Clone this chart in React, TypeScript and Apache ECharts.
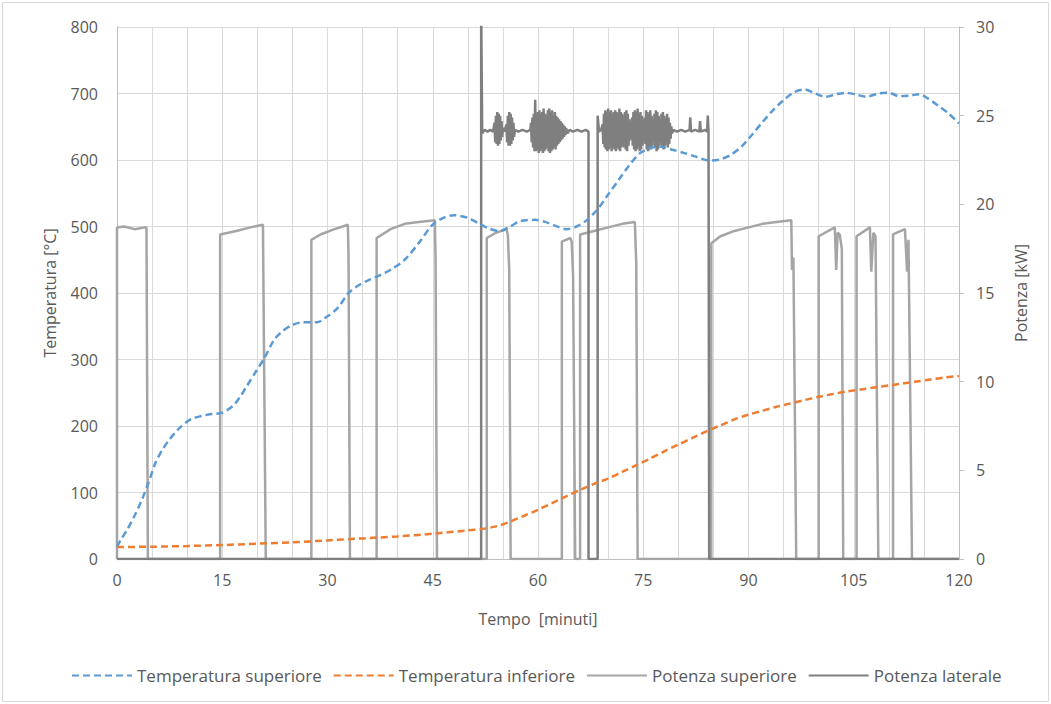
import React, { useEffect, useRef } from "react";
import * as echarts from "echarts";

const xTicks = [0, 15, 30, 45, 60, 75, 90, 105, 120];

const tempSuperiore: [number, number][] = [
  [0, 18], [0.5, 28], [1.5, 45], [2.5, 65], [3.5, 88], [4.5, 115], [5.5, 145], [6.5, 165], [7.5, 180],
  [9, 198], [10.5, 210], [12, 215], [13.5, 218], [15, 220], [16.5, 230], [17.5, 243], [18.5, 260],
  [19.8, 282], [21, 302], [22.3, 328], [23.5, 342], [25, 352], [26.5, 356], [28.5, 356], [30, 365],
  [31.5, 378], [33, 400], [34.5, 412], [36, 420], [37.5, 427], [39, 435], [41, 450], [43, 475],
  [45, 503], [46.5, 513], [48, 517], [50, 513], [51.5, 505], [53, 497], [54.5, 493], [56, 500],
  [57.5, 508], [59.5, 510], [61, 507], [62.5, 501], [64, 496], [65.5, 500], [67, 510], [68.5, 526],
  [70, 548], [71.5, 570], [73, 592], [74.5, 610], [76, 618], [77.5, 620], [79.3, 615], [81, 610],
  [82.5, 605], [84.5, 599], [86, 601], [87.5, 608], [89, 620], [90.5, 638], [92, 657], [93.5, 675],
  [95, 690], [96.5, 702], [98, 706], [99.5, 700], [101, 695], [102.5, 699], [104, 701], [105.5, 698],
  [106.8, 695], [108.5, 700], [110, 701], [111.5, 696], [113, 697], [114.3, 699], [115.5, 693],
  [117, 682], [118.5, 670], [120, 655],
];

const tempInferiore: [number, number][] = [
  [0, 18], [5, 18.5], [10, 19.5], [15, 21], [20, 23], [25, 25], [30, 28], [35, 31], [40, 34], [45, 38],
  [50, 43], [52, 45], [54, 49], [56, 56], [58, 65], [60, 74], [62, 84], [64, 94], [66, 104], [68, 113],
  [70, 121], [72, 131], [74, 141], [76, 151], [78, 162], [80, 172], [82, 182], [84, 192], [86, 201],
  [88, 210], [90, 217], [92, 223], [94, 229], [96, 234], [98, 239], [100, 244], [102, 248], [104, 252],
  [106, 255], [108, 258], [110, 261], [112, 264], [114, 267], [116, 270], [118, 273], [120, 275],
];

const potenzaSuperiore: [number, number][] = [
  [0, 0], [0, 18.7], [1, 18.75], [2.5, 18.6], [4, 18.7], [4.2, 18.7], [4.4, 0],
  [14.7, 0], [14.7, 18.3], [17, 18.5], [19, 18.7], [20.8, 18.85], [21.2, 0],
  [27.7, 0], [27.7, 18.0], [29, 18.3], [31, 18.6], [32.9, 18.85], [33.0, 17.0], [33.2, 0],
  [37.0, 0], [37.0, 18.1], [39, 18.6], [41, 18.9], [43, 19.0], [45.3, 19.1], [45.4, 16.9], [45.6, 0],
  [52.7, 0], [52.7, 18.1], [54, 18.4], [55.5, 18.6], [55.7, 18.3], [55.9, 16.3], [56.1, 0],
  [63.4, 0], [63.4, 17.9], [64.6, 18.1], [64.8, 17.9], [65.0, 16.0], [65.3, 0],
  [66.0, 0], [66.0, 18.3], [68, 18.5], [70, 18.7], [72, 18.9], [73.8, 19.0], [74.0, 16.7], [74.2, 0],
  [84.7, 0], [84.7, 17.8], [86, 18.2], [88, 18.5], [90, 18.7], [92, 18.9], [94, 19.0], [96.1, 19.1],
  [96.2, 16.3], [96.4, 17.0], [96.8, 0],
  [100, 0], [100, 18.2], [102.3, 18.7], [102.5, 16.3], [102.7, 18.4], [103.0, 18.3], [103.3, 17.5], [103.5, 0],
  [105.4, 0], [105.4, 18.2], [107.3, 18.7], [107.5, 16.2], [107.8, 18.4], [108.1, 18.2], [108.5, 0],
  [110.6, 0], [110.6, 18.3], [112.3, 18.6], [112.6, 16.2], [112.8, 18.0], [113.3, 0],
  [120, 0],
];

const potenzaLaterale: [number, number][] = [
  [0, 0], [51.9, 0], [51.9, 31], [52.05, 24.0], [52.4, 24.2], [52.8, 24.1], [53.2, 24.2], [53.6, 24.1],
  [53.8, 24.6], [53.9, 23.5], [54.0, 25.0], [54.1, 23.4], [54.2, 25.2], [54.3, 23.3], [54.4, 25.1],
  [54.5, 23.4], [54.6, 25.0], [54.7, 23.6], [54.8, 24.7], [54.9, 23.8], [55.0, 24.3], [55.2, 24.1],
  [55.5, 24.5], [55.6, 23.5], [55.7, 25.0], [55.8, 23.3], [55.9, 25.2], [56.0, 23.3], [56.1, 25.1],
  [56.2, 23.4], [56.3, 24.9], [56.4, 23.6], [56.5, 24.6], [56.6, 23.8], [56.7, 24.2],
  [57.2, 24.1], [57.8, 24.2], [58.4, 24.1], [58.9, 24.2],
  [59.0, 24.6], [59.1, 23.5], [59.2, 24.9], [59.3, 23.2], [59.4, 25.1], [59.5, 23.0], [59.6, 25.9],
  [59.7, 23.0], [59.8, 25.0], [59.9, 23.1], [60.0, 25.2], [60.1, 22.9], [60.2, 25.3], [60.3, 23.0],
  [60.4, 25.1], [60.5, 23.1], [60.6, 25.2], [60.7, 22.9], [60.8, 25.4], [60.9, 23.0], [61.0, 25.1],
  [61.1, 23.1], [61.2, 25.0], [61.3, 23.2], [61.4, 25.3], [61.5, 23.0], [61.6, 25.4], [61.7, 22.9],
  [61.8, 25.2], [61.9, 23.0], [62.0, 25.3], [62.1, 23.1], [62.2, 25.0], [62.3, 23.2], [62.4, 25.2],
  [62.5, 23.1], [62.6, 25.0], [62.7, 23.3], [62.8, 24.9], [62.9, 23.4], [63.0, 24.8], [63.1, 23.5],
  [63.2, 24.7], [63.3, 23.6], [63.4, 24.6], [63.5, 23.7], [63.6, 24.5], [63.7, 23.8], [63.8, 24.4],
  [63.9, 23.9], [64.0, 24.3], [64.2, 24.0], [64.5, 24.2],
  [65.0, 24.1], [65.6, 24.2], [66.2, 24.1], [66.8, 24.2], [67.2, 24.1], [67.2, 0], [68.5, 0],
  [68.5, 25.0], [68.7, 24.1], [69.0, 24.2],
  [69.2, 24.5], [69.3, 23.4], [69.4, 25.1], [69.5, 23.2], [69.6, 25.3], [69.7, 23.1], [69.8, 25.2],
  [69.9, 23.0], [70.0, 25.4], [70.1, 23.1], [70.2, 25.2], [70.3, 23.2], [70.4, 25.3], [70.5, 23.0],
  [70.6, 25.1], [70.7, 23.2], [70.8, 25.2], [70.9, 23.1], [71.0, 25.3], [71.1, 23.0], [71.2, 25.2],
  [71.3, 23.2], [71.4, 25.1], [71.5, 23.1], [71.6, 25.4], [71.7, 23.0], [71.8, 25.2], [71.9, 23.2],
  [72.0, 25.1], [72.1, 23.3], [72.2, 25.0], [72.3, 23.2], [72.4, 25.2], [72.5, 23.1], [72.6, 25.3],
  [72.7, 23.0], [72.8, 25.1], [72.9, 23.3], [73.0, 24.8], [73.1, 23.6], [73.2, 24.6], [73.3, 23.8],
  [73.4, 24.9], [73.5, 23.3], [73.6, 25.2], [73.7, 23.1], [73.8, 25.3], [73.9, 23.0], [74.0, 25.2],
  [74.1, 23.1], [74.2, 25.4], [74.3, 23.2], [74.4, 25.1], [74.5, 23.0], [74.6, 25.2], [74.7, 23.1],
  [74.8, 25.0], [74.9, 23.3], [75.0, 24.7], [75.1, 23.7], [75.2, 24.9], [75.3, 23.4], [75.4, 25.3],
  [75.5, 23.1], [75.6, 25.2], [75.7, 23.0], [75.8, 25.1], [75.9, 23.2], [76.0, 25.3], [76.1, 23.1],
  [76.2, 25.0], [76.3, 23.3], [76.4, 24.7], [76.5, 23.6], [76.6, 25.1], [76.7, 23.2], [76.8, 25.3],
  [76.9, 23.0], [77.0, 25.2], [77.1, 23.1], [77.2, 25.0], [77.3, 23.3], [77.4, 24.6], [77.5, 23.8],
  [77.6, 25.1], [77.7, 23.2], [77.8, 25.2], [77.9, 23.1], [78.0, 25.0], [78.1, 23.3], [78.2, 24.8],
  [78.3, 23.5], [78.4, 25.1], [78.5, 23.2], [78.6, 24.9], [78.7, 23.4], [78.8, 24.6], [78.9, 23.7],
  [79.0, 24.4], [79.1, 24.0],
  [79.3, 24.2], [79.8, 24.1], [80.4, 24.2], [81.0, 24.1], [81.6, 24.2], [81.7, 24.9], [81.8, 24.1],
  [82.4, 24.2], [83.0, 24.1], [83.1, 24.7], [83.2, 24.1], [83.8, 24.2], [84.1, 24.1], [84.2, 25.0],
  [84.3, 24.1], [84.4, 0], [120, 0],
];

const FONT = "'Open Sans', 'DejaVu Sans', sans-serif";
const TXT = "#595959";
const GRID = "#D9D9D9";

export default function App() {
  const ref = useRef<HTMLDivElement>(null);
  useEffect(() => {
    if (!ref.current) return;
    const chart = echarts.init(ref.current, undefined, { renderer: "svg" });
    chart.setOption({
      animation: false,
      backgroundColor: "#ffffff",
      textStyle: { fontFamily: FONT, color: TXT },
      graphic: [
        {
          type: "rect",
          shape: { x: 2.5, y: 2.5, width: 1046, height: 699 },
          style: { fill: "none", stroke: "#D9D9D9", lineWidth: 1 },
          silent: true,
        },
      ],
      grid: { left: 117, right: 92, top: 27, bottom: 145 },
      legend: {
        bottom: 15,
        left: 66,
        itemWidth: 60,
        itemHeight: 14,
        itemGap: 11,
        itemStyle: { opacity: 0 },
        textStyle: { fontFamily: FONT, fontSize: 17, color: TXT },
        data: ["Temperatura superiore", "Temperatura inferiore", "Potenza superiore", "Potenza laterale"],
      },
      xAxis: {
        type: "value",
        min: 0,
        max: 120,
        interval: 15,
        name: "Tempo  [minuti]",
        nameLocation: "middle",
        nameGap: 52,
        nameTextStyle: { fontFamily: FONT, fontSize: 16, color: TXT },
        axisLine: { show: true, lineStyle: { color: "#BFBFBF", width: 1 } },
        axisTick: { show: false },
        axisLabel: {
          fontFamily: FONT,
          fontSize: 16,
          color: TXT,
          margin: 13,
          formatter: (v: number) => (xTicks.includes(v) ? String(v) : ""),
        },
        splitLine: { show: true, lineStyle: { color: GRID, width: 1 } },
        minorTick: { show: false, splitNumber: 3 },
        minorSplitLine: { show: true, lineStyle: { color: GRID, width: 1 } },
      },
      yAxis: [
        {
          type: "value",
          min: 0,
          max: 800,
          interval: 100,
          name: "Temperatura [°C]",
          nameLocation: "middle",
          nameGap: 59,
          nameTextStyle: { fontFamily: FONT, fontSize: 16, color: TXT },
          axisLine: { show: true, lineStyle: { color: "#BFBFBF" } },
          axisTick: { show: false },
          axisLabel: { fontFamily: FONT, fontSize: 16, color: TXT, margin: 19 },
          splitLine: { show: true, lineStyle: { color: GRID, width: 1 } },
        },
        {
          type: "value",
          min: 0,
          max: 30,
          interval: 5,
          position: "right",
          name: "Potenza [kW]",
          nameLocation: "middle",
          nameGap: 54,
          nameRotate: 90,
          nameTextStyle: { fontFamily: FONT, fontSize: 16, color: TXT },
          axisLine: { show: true, lineStyle: { color: "#BFBFBF" } },
          axisTick: { show: true, length: 5, lineStyle: { color: "#BFBFBF" } },
          axisLabel: { fontFamily: FONT, fontSize: 16, color: TXT, margin: 17 },
          splitLine: { show: false },
        },
      ],
      series: [
        {
          name: "Potenza superiore",
          type: "line",
          yAxisIndex: 1,
          data: potenzaSuperiore,
          symbol: "none",
          lineStyle: { color: "#A5A5A5", width: 2.5 },
          itemStyle: { color: "#A5A5A5" },
          z: 2,
        },
        {
          name: "Potenza laterale",
          type: "line",
          yAxisIndex: 1,
          data: potenzaLaterale,
          symbol: "none",
          lineStyle: { color: "#7F7F7F", width: 2.5 },
          itemStyle: { color: "#7F7F7F" },
          z: 3,
        },
        {
          name: "Temperatura superiore",
          type: "line",
          yAxisIndex: 0,
          data: tempSuperiore,
          symbol: "none",
          smooth: 0.3,
          lineStyle: { color: "#5B9BD5", width: 2.5, type: [7, 4] },
          itemStyle: { color: "#5B9BD5" },
          z: 4,
        },
        {
          name: "Temperatura inferiore",
          type: "line",
          yAxisIndex: 0,
          data: tempInferiore,
          symbol: "none",
          smooth: 0.3,
          lineStyle: { color: "#ED7D31", width: 2.5, type: [7, 4] },
          itemStyle: { color: "#ED7D31" },
          z: 4,
        },
      ],
    });
    return () => chart.dispose();
  }, []);
  return (
    <div
      ref={ref}
      style={{ position: "fixed", left: 0, top: 0, width: 1051, height: 704 }}
    />
  );
}
